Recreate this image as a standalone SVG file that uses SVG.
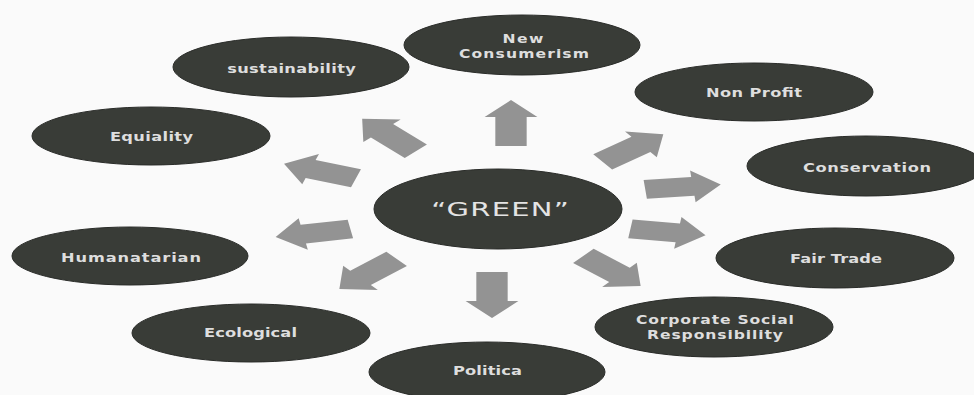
<svg xmlns="http://www.w3.org/2000/svg" width="974" height="395" viewBox="0 0 974 395">
<style>
.node{fill:#393c37;stroke:#2a2c29;stroke-width:1}
.lbl{font-family:"DejaVu Sans","Liberation Sans",sans-serif;font-size:12.5px;font-weight:bold;fill:#dedede;text-anchor:middle}
.two{font-size:12px}
.big{font-family:"DejaVu Sans","Liberation Sans",sans-serif;font-size:20px;font-weight:normal;fill:#e4e4e4;text-anchor:middle}
.arr{fill:#939393}
</style>
<defs>
<path id="ar" d="M-23,-9.5 H6 V-16 L23,0 L6,16 V9.5 H-23 Z"/>
</defs>
<rect width="974" height="395" fill="#fafafa"/>
<g id="connectors">
<use href="#ar" class="arr" transform="translate(511,123) scale(1.65,1) rotate(-90)"/>
<use href="#ar" class="arr" transform="translate(492,295) scale(1.65,1) rotate(90)"/>
<use href="#ar" class="arr" transform="translate(683,187) scale(1.65,1) rotate(-6)"/>
<use href="#ar" class="arr" transform="translate(668,232) scale(1.65,1) rotate(8)"/>
<use href="#ar" class="arr" transform="translate(612,271) scale(1.65,1) rotate(41)"/>
<use href="#ar" class="arr" transform="translate(633,148) scale(1.65,1) rotate(-37)"/>
<use href="#ar" class="arr" transform="translate(389,135) scale(1.65,1) rotate(-135)"/>
<use href="#ar" class="arr" transform="translate(320,171) scale(1.65,1) rotate(198.5)"/>
<use href="#ar" class="arr" transform="translate(313,233) scale(1.65,1) rotate(170)"/>
<use href="#ar" class="arr" transform="translate(368,274) scale(1.65,1) rotate(139)"/>
</g>
<g id="new-consumerism">
<ellipse class="node" cx="522" cy="45" rx="118" ry="30"/>
<text class="lbl two" transform="translate(523,42.5) scale(1.3,1)" textLength="31.5" lengthAdjust="spacing">New</text>
<text class="lbl two" transform="translate(524,57.5) scale(1.3,1)" textLength="100" lengthAdjust="spacing">Consumerism</text>
</g>
<g id="sustainability">
<ellipse class="node" cx="291" cy="67" rx="118" ry="30"/>
<text class="lbl" transform="translate(291.5,73) scale(1.3,1)" textLength="99" lengthAdjust="spacing">sustainability</text>
</g>
<g id="non-profit">
<ellipse class="node" cx="754" cy="92" rx="119" ry="29"/>
<text class="lbl" transform="translate(754,97) scale(1.3,1)" textLength="74" lengthAdjust="spacing">Non Profit</text>
</g>
<g id="equiality">
<ellipse class="node" cx="151" cy="136" rx="119" ry="29"/>
<text class="lbl" transform="translate(151.5,141) scale(1.3,1)" textLength="64" lengthAdjust="spacing">Equiality</text>
</g>
<g id="conservation">
<ellipse class="node" cx="866" cy="166" rx="119" ry="30"/>
<text class="lbl" transform="translate(867,172) scale(1.3,1)" textLength="98.5" lengthAdjust="spacing">Conservation</text>
</g>
<g id="green">
<ellipse class="node" cx="498" cy="209" rx="124" ry="40"/>
<text class="big" transform="translate(500,216) scale(1.45,1)" textLength="95" lengthAdjust="spacing">“GREEN”</text>
</g>
<g id="humanatarian">
<ellipse class="node" cx="130" cy="256" rx="118" ry="29"/>
<text class="lbl" transform="translate(131,262) scale(1.3,1)" textLength="107.7" lengthAdjust="spacing">Humanatarian</text>
</g>
<g id="fair-trade">
<ellipse class="node" cx="835" cy="258" rx="119" ry="30"/>
<text class="lbl" transform="translate(836,263) scale(1.3,1)" textLength="70.8" lengthAdjust="spacing">Fair Trade</text>
</g>
<g id="csr">
<ellipse class="node" cx="714" cy="327" rx="119" ry="30"/>
<text class="lbl two" transform="translate(715,324) scale(1.3,1)" textLength="121.5" lengthAdjust="spacing">Corporate Social</text>
<text class="lbl two" transform="translate(715,338.5) scale(1.3,1)" textLength="104.6" lengthAdjust="spacing">Responsibility</text>
</g>
<g id="ecological">
<ellipse class="node" cx="251" cy="333" rx="119" ry="29"/>
<text class="lbl" transform="translate(250.5,337) scale(1.3,1)" textLength="71.5" lengthAdjust="spacing">Ecological</text>
</g>
<g id="politica">
<ellipse class="node" cx="487" cy="372" rx="118" ry="30"/>
<text class="lbl" transform="translate(487.5,375) scale(1.3,1)" textLength="53" lengthAdjust="spacing">Politica</text>
</g>
</svg>
